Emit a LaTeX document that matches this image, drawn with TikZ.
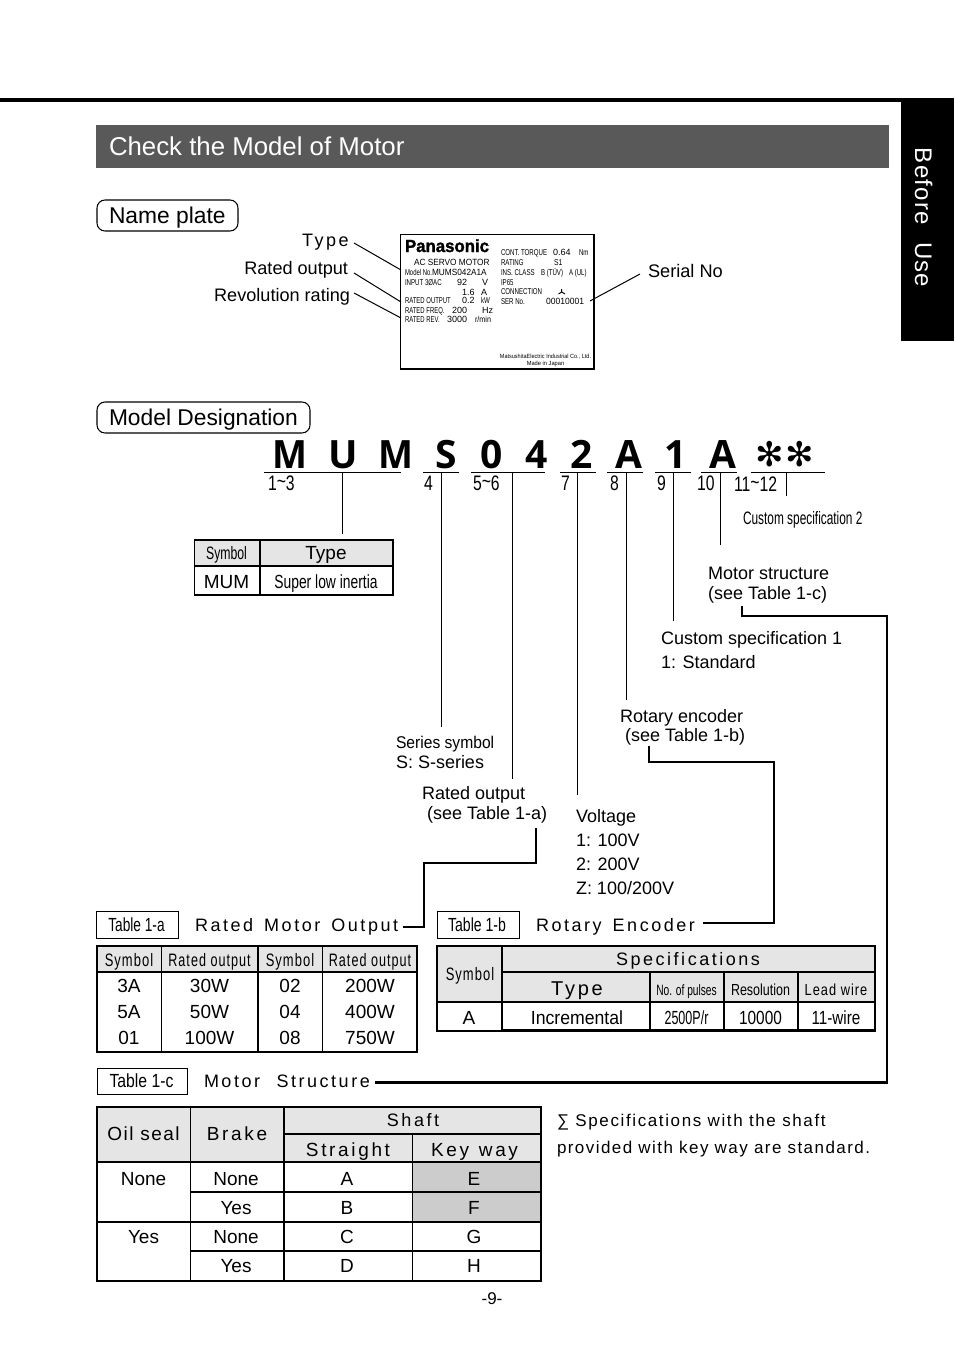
\documentclass[tikz,border=0pt]{standalone}
\usepackage{graphicx}
\usepackage{fontspec}
\setmainfont{Liberation Sans}
\newfontfamily\djv{DejaVu Sans}
\newfontfamily\opn{Open Sans}
\newcounter{tn}
\newcommand\lsp[1]{\addfontfeature{LetterSpace=#1}}
% x, baseline y, anchor, size px, hscale, text
\newcommand\tx[6]{\stepcounter{tn}\node[lab,anchor=#3] (t\arabic{tn}) at (#1,#2) {\edef\fsz{\the\dimexpr#4pt*3/4\relax}\fontsize{\fsz}{\fsz}\selectfont\scalebox{#5}[1]{#6}};}
\tikzset{
 lab/.style={inner sep=0pt,outer sep=0pt,text=black},
 thin line/.style={draw=black,line width=0.85pt},
 thinner/.style={draw=black,line width=0.6pt},
 conn/.style={draw=black,line width=1.7pt,line join=miter},
 leader/.style={draw=black,line width=0.75pt},
 hdr/.style={fill=black!10},
 kw/.style={fill=black!20},
 lbox/.style={draw=black,line width=0.75pt,fill=white},
 pill/.style={draw=black,line width=0.8pt,rounded corners=6pt},
}
\begin{document}
\begin{tikzpicture}[x=0.75pt,y=-0.75pt]
\useasboundingbox (0,0) rectangle (954,1352);
% page furniture
\fill[black] (0,98) rectangle (954,102);
\fill[black] (901,98) rectangle (954,341);
\fill[black!65] (96,125) rectangle (889,168);
\node[lab,text=white,rotate=-90,anchor=base west] (side) at (915,148) {\fontsize{18}{20}\selectfont\addfontfeature{LetterSpace=5}Before\hspace{13pt}Use};
\node[lab,text=white,anchor=base west] (title) at (109,155.5) {\fontsize{19.35}{23}\selectfont Check the Model of Motor};
% section pills
\draw[pill] (97,200) rectangle (238,231);
\draw[pill] (97,402) rectangle (310,433);
\tx{109}{223}{base west}{22.8}{1}{Name plate}
\tx{109}{425}{base west}{22.8}{1}{Model Designation}
% name plate
\draw[thin line] (400.5,234.5) rectangle (594,369);
\tx{302}{246}{base west}{18}{1}{\lsp{14}Type}
\tx{348}{274}{base east}{18.1}{1}{Rated output}
\tx{350}{301}{base east}{18.1}{1}{Revolution rating}
\tx{648}{277}{base west}{18.2}{1}{Serial No}
\coordinate (la) at (354,243); \coordinate (lb) at (401,270);
\coordinate (lc) at (354,273); \coordinate (ld) at (401,302);
\coordinate (le) at (354,293); \coordinate (lf) at (401,318);
\coordinate (lg) at (590,301); \coordinate (lh) at (640,274);
\draw[leader] (la)--(lb); \draw[leader] (lc)--(ld); \draw[leader] (le)--(lf); \draw[leader] (lg)--(lh);
\tx{405}{252}{base west}{17.5}{.96}{\bfseries\addfontfeature{FakeBold=1.5}Panasonic}
\tx{414}{265}{base west}{9}{.92}{AC SERVO MOTOR}
\tx{405}{275}{base west}{8.5}{.7}{Model No.}
\tx{432}{275}{base west}{9}{.92}{MUMS042A1A}
\tx{405}{285}{base west}{8.5}{.72}{INPUT 3\O AC}
\tx{457}{285}{base west}{9}{1}{92}
\tx{482}{285}{base west}{9}{1}{V}
\tx{462}{295}{base west}{9}{1}{1.6}
\tx{481}{295}{base west}{9}{1}{A}
\tx{405}{303.5}{base west}{8.5}{.7}{RATED OUTPUT}
\tx{462}{303.5}{base west}{9}{1}{0.2}
\tx{481}{303.5}{base west}{8.5}{.72}{kW}
\tx{405}{313}{base west}{8.5}{.7}{RATED FREQ.}
\tx{452}{313}{base west}{9}{1}{200}
\tx{482}{313}{base west}{9}{1}{Hz}
\tx{405}{322.5}{base west}{8.5}{.7}{RATED REV.}
\tx{447}{322.5}{base west}{9}{1}{3000}
\tx{475}{322.5}{base west}{8.5}{.85}{r/min}
\tx{501}{255}{base west}{8.5}{.72}{CONT. TORQUE}
\tx{553}{255}{base west}{9}{1}{0.64}
\tx{579}{255}{base west}{8.5}{.72}{Nm}
\tx{501}{265}{base west}{8.5}{.72}{RATING}
\tx{554}{265}{base west}{8.5}{.8}{S1}
\tx{501}{275}{base west}{8.5}{.72}{INS. CLASS}
\tx{541}{275}{base west}{8.5}{.72}{B (T\"UV)}
\tx{569}{275}{base west}{8.5}{.72}{A (UL)}
\tx{501}{285}{base west}{8.5}{.72}{IP65}
\tx{501}{294}{base west}{8.5}{.72}{CONNECTION}
\tx{501}{304}{base west}{8.5}{.72}{SER No.}
\tx{546}{304}{base west}{9}{.95}{00010001}
\tx{545.5}{358}{base}{6}{.92}{MatsushitaElectric Industrial Co., Ltd.}
\tx{545.5}{365}{base}{6}{.95}{Made in Japan}
\draw[black,line width=0.7pt] (561.7,289)--(561.7,292)--(558.5,294) (561.7,292)--(565,294);
% model code
\tx{290}{468}{base}{39}{.95}{\opn\bfseries M}
\tx{343}{468}{base}{39}{1}{\opn\bfseries U}
\tx{396}{468}{base}{39}{.95}{\opn\bfseries M}
\tx{446}{468}{base}{39}{1}{\opn\bfseries S}
\tx{491.5}{468}{base}{39}{1}{\opn\bfseries 0}
\tx{537}{468}{base}{39}{1}{\opn\bfseries 4}
\tx{582}{468}{base}{39}{1}{\opn\bfseries 2}
\tx{628.5}{468}{base}{39}{1}{\opn\bfseries A}
\tx{676}{468}{base}{39}{1}{\opn\bfseries 1}
\tx{722.5}{468}{base}{39}{1}{\opn\bfseries A}
\tx{770}{466}{base}{34}{1}{\djv ✻}
\tx{800}{466}{base}{34}{1}{\djv ✻}
\foreach \a/\b in {264/401,423/459,471/545,560/596,607/643,655/691,701/737,751/825}
  \draw[thinner] (\a,472)--(\b,472);
\tx{268}{490}{base west}{21}{.75}{1\raisebox{1pt}{\textasciitilde}3}
\tx{424}{490}{base west}{21}{.75}{4}
\tx{473}{490}{base west}{21}{.75}{5\raisebox{1pt}{\textasciitilde}6}
\tx{561}{490}{base west}{21}{.75}{7}
\tx{610}{490}{base west}{21}{.75}{8}
\tx{657}{490}{base west}{21}{.75}{9}
\tx{697}{490}{base west}{21}{.75}{10}
\tx{734}{491}{base west}{21}{.75}{11\raisebox{1pt}{\textasciitilde}12}
\coordinate (v1a) at (342.5,472); \coordinate (v1b) at (342.5,534);
\coordinate (v2a) at (441.5,472); \coordinate (v2b) at (441.5,727);
\coordinate (v3a) at (512.5,472); \coordinate (v3b) at (512.5,779);
\coordinate (v4a) at (577,472); \coordinate (v4b) at (577,795);
\coordinate (v5a) at (626.5,472); \coordinate (v5b) at (626.5,700);
\coordinate (v6a) at (673.5,472); \coordinate (v6b) at (673.5,621);
\coordinate (v7a) at (720.5,472); \coordinate (v7b) at (720.5,545);
\coordinate (v8a) at (786,472); \coordinate (v8b) at (786,496);
\draw[leader] (v1a)--(v1b); \draw[leader] (v2a)--(v2b); \draw[leader] (v3a)--(v3b); \draw[leader] (v4a)--(v4b);
\draw[leader] (v5a)--(v5b); \draw[leader] (v6a)--(v6b); \draw[leader] (v7a)--(v7b); \draw[leader] (v8a)--(v8b);
% small type table
\fill[hdr] (194.5,540) rectangle (393,566);
\draw[thin line] (194.5,540) rectangle (393,595);
\draw[thin line] (194.5,566)--(393,566) (260,540)--(260,595);
\tx{226.5}{559}{base}{18}{.68}{Symbol}
\tx{326}{559}{base}{19}{1}{Type}
\tx{226.5}{588}{base}{19}{1}{MUM}
\tx{326}{588}{base}{19}{.73}{Super low inertia}
% descriptions
\tx{743}{524}{base west}{18}{.66}{Custom specification 2}
\tx{708}{579}{base west}{18}{1}{Motor structure}
\tx{708}{599}{base west}{18}{1}{(see Table 1-c)}
\tx{661}{644}{base west}{18}{1}{Custom specification 1}
\tx{661}{668}{base west}{18}{1}{1: Standard}
\tx{620}{722}{base west}{18}{1}{Rotary encoder}
\tx{625}{741}{base west}{18}{1}{(see Table 1-b)}
\tx{396}{748}{base west}{17}{.92}{Series symbol}
\tx{396}{768}{base west}{18}{1}{S: S-series}
\tx{422}{799}{base west}{18}{1}{Rated output}
\tx{427}{819}{base west}{18}{1}{(see Table 1-a)}
\tx{576}{822}{base west}{18}{1}{Voltage}
\tx{576}{846}{base west}{18}{1}{1: 100V}
\tx{576}{870}{base west}{18}{1}{2: 200V}
\tx{576}{894}{base west}{18}{1}{Z: 100/200V}
% thick connectors
\coordinate (c1a) at (536,828); \coordinate (c1b) at (424,863); \coordinate (c1c) at (403,927);
\draw[conn] (c1a)|-(c1b)|-(c1c);
\coordinate (c2a) at (649,746); \coordinate (c2b) at (774,762); \coordinate (c2c) at (703,923);
\draw[conn] (c2a)|-(c2b)|-(c2c);
\coordinate (c3a) at (742,606); \coordinate (c3b) at (887,616); \coordinate (c3c) at (375,1082.5);
\draw[conn] (c3a)|-(c3b)|-(c3c);
% table headings
\draw[lbox] (96,911) rectangle (178,938);
\draw[lbox] (437,911) rectangle (519,938);
\draw[lbox] (97,1068) rectangle (187,1094);
\tx{136.5}{931}{base}{19}{.72}{Table 1-a}
\tx{477}{931}{base}{19}{.74}{Table 1-b}
\tx{141.5}{1087}{base}{19}{.83}{Table 1-c}
\tx{195}{931}{base west}{18}{1}{\lsp{14}Rated\hspace{.2em} Motor\hspace{.2em} Output}
\tx{536}{931}{base west}{18}{1}{\lsp{14}Rotary\hspace{.2em} Encoder}
\tx{204}{1087}{base west}{18}{1}{\lsp{14}Motor\hspace{.5em} Structure}
% table 1-a
\fill[hdr] (97,946) rectangle (417,972);
\draw[thin line] (97,946) rectangle (417,1052);
\draw[thin line] (97,972)--(417,972);
\foreach \x in {161.5,258,322.5} \draw[thin line] (\x,946)--(\x,1052);
\tx{129}{966}{base}{18}{.72}{\lsp{8}Symbol}
\tx{209.5}{966}{base}{18}{.7}{\lsp{8}Rated output}
\tx{290}{966}{base}{18}{.72}{\lsp{8}Symbol}
\tx{370}{966}{base}{18}{.7}{\lsp{8}Rated output}
\tx{129}{992}{base}{19}{1}{3A}
\tx{209.5}{992}{base}{19}{1}{30W}
\tx{290}{992}{base}{19}{1}{02}
\tx{370}{992}{base}{19}{1}{200W}
\tx{129}{1018}{base}{19}{1}{5A}
\tx{209.5}{1018}{base}{19}{1}{50W}
\tx{290}{1018}{base}{19}{1}{04}
\tx{370}{1018}{base}{19}{1}{400W}
\tx{129}{1044}{base}{19}{1}{01}
\tx{209.5}{1044}{base}{19}{1}{100W}
\tx{290}{1044}{base}{19}{1}{08}
\tx{370}{1044}{base}{19}{1}{750W}
% table 1-b
\fill[hdr] (437,946) rectangle (875,1002);
\fill[white] (502,1002) rectangle (875,1031);
\draw[thin line] (437,946) rectangle (875,1031);
\draw[thin line] (437,1002)--(502,1002) (502,946)--(502,1031);
\draw[thin line] (724,972)--(724,1031);
\draw[thin line] (798,972)--(798,1031);
\draw[line width=1.3pt] (502,972)--(875,972);
\draw[line width=1.3pt] (502,1002)--(875,1002);
\draw[line width=1.3pt] (502,1030)--(875,1030);
\draw[line width=1.3pt] (650,972)--(650,1031);
\tx{470}{980}{base}{18}{.72}{\lsp{8}Symbol}
\tx{688}{965}{base}{18}{1}{\lsp{14}Specifications}
\tx{577}{995}{base}{20}{1}{\lsp{14}Type}
\tx{686.5}{995}{base}{15}{.68}{No. of pulses}
\tx{760.5}{995}{base}{16}{.78}{Resolution}
\tx{836}{995}{base}{16}{.8}{\lsp{8}Lead wire}
\tx{469}{1024}{base}{19}{1}{A}
\tx{577}{1024}{base}{19}{.93}{Incremental}
\tx{686.5}{1024}{base}{19}{.66}{2500P/r}
\tx{760.5}{1024}{base}{19}{.81}{10000}
\tx{836}{1024}{base}{19}{.8}{11-wire}
% table 1-c
\fill[hdr] (97,1107) rectangle (541,1162);
\fill[kw] (412.5,1162) rectangle (541,1222);
\draw[thin line] (97,1107) rectangle (541,1281);
\draw[thin line] (284,1134)--(541,1134) (97,1162)--(541,1162) (190,1192)--(541,1192) (97,1222)--(541,1222) (190,1251)--(541,1251);
\draw[thin line] (190.5,1107)--(190.5,1281) (412.5,1134)--(412.5,1281);
\draw[line width=1.2pt] (284,1107)--(284,1281);
\tx{143.5}{1140}{base}{19}{1}{\lsp{8}Oil seal}
\tx{237}{1140}{base}{19}{1}{\lsp{14}Brake}
\tx{413}{1126}{base}{18}{1}{\lsp{14}Shaft}
\tx{348}{1156}{base}{19}{1}{\lsp{14}Straight}
\tx{474.5}{1156}{base}{19}{1}{\lsp{14}Key\hspace{.1em} way}
\tx{143.5}{1185}{base}{19}{1}{None}
\tx{236}{1185}{base}{19}{1}{None}
\tx{347}{1185}{base}{19}{1}{A}
\tx{474}{1185}{base}{19}{1}{E}
\tx{236}{1214}{base}{19}{1}{Yes}
\tx{347}{1214}{base}{19}{1}{B}
\tx{474}{1214}{base}{19}{1}{F}
\tx{143.5}{1243}{base}{19}{1}{Yes}
\tx{236}{1243}{base}{19}{1}{None}
\tx{347}{1243}{base}{19}{1}{C}
\tx{474}{1243}{base}{19}{1}{G}
\tx{236}{1272}{base}{19}{1}{Yes}
\tx{347}{1272}{base}{19}{1}{D}
\tx{474}{1272}{base}{19}{1}{H}
\tx{557}{1126}{base west}{17}{1}{\lsp{9.5}∑ Specifications with the shaft}
\tx{557}{1153}{base west}{17}{1}{\lsp{8.5}provided with key way are standard.}
\tx{492}{1304}{base}{17}{1}{-9-}
\end{tikzpicture}
\end{document}
